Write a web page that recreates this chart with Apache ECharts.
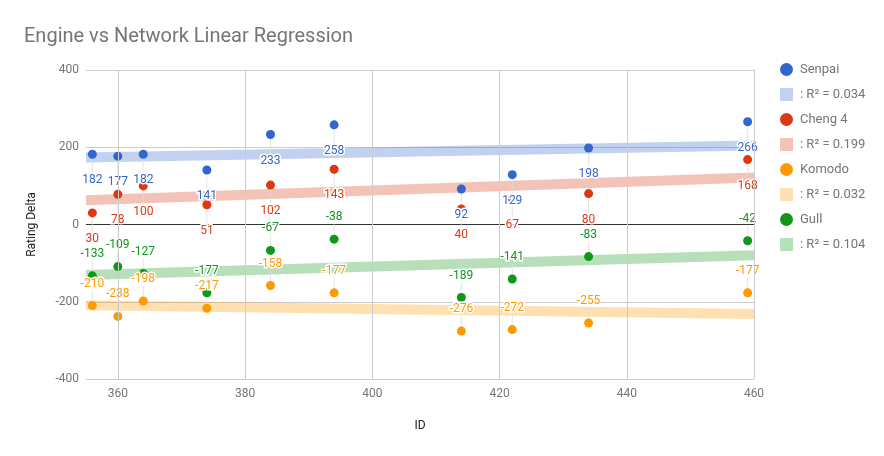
<!DOCTYPE html>
<html>
<head>
<meta charset="utf-8">
<script src="https://cdn.jsdelivr.net/npm/echarts@6/dist/echarts.min.js"></script>
<style>html,body{margin:0;padding:0;background:#fff;}#c{width:884px;height:456px;}</style>
</head>
<body>
<div id="c"></div>
<script>
var ids = [356, 360, 364, 374, 384, 394, 414, 422, 434, 459];
var senpai = [182, 177, 182, 141, 233, 258, 92, 129, 198, 266];
var cheng4 = [30, 78, 100, 51, 102, 143, 40, 67, 80, 168];
var komodo = [-210, -238, -198, -217, -158, -177, -276, -272, -255, -177];
var gull = [-133, -109, -127, -177, -67, -38, -189, -141, -83, -42];
var seriesNames = ['Senpai', 'Cheng 4', 'Komodo', 'Gull'];
var trendNames = [': R\u00b2 = 0.034', ': R\u00b2 = 0.199', ': R\u00b2 = 0.032', ': R\u00b2 = 0.104'];
var xTicks = [360, 380, 400, 420, 440, 460];
var yTicks = [-400, -200, 0, 200, 400];

var colors = ['#3366cc', '#dc3912', '#ff9900', '#109618'];
var lightColors = ['#c2d1f0', '#f5c4b8', '#ffe0b3', '#b7e0ba'];
var labelBelow = [true, true, false, false];
var X_MIN = 355, X_MAX = 460;

function regress(xs, ys) {
  var n = xs.length, mx = 0, my = 0;
  for (var i = 0; i < n; i++) { mx += xs[i]; my += ys[i]; }
  mx /= n; my /= n;
  var sxy = 0, sxx = 0;
  for (var j = 0; j < n; j++) { sxy += (xs[j] - mx) * (ys[j] - my); sxx += (xs[j] - mx) * (xs[j] - mx); }
  var b = sxy / sxx, a = my - b * mx;
  return [[X_MIN, a + b * X_MIN], [X_MAX, a + b * X_MAX]];
}

var allValues = [senpai, cheng4, komodo, gull];
var series = [];
var legendData = [];

// vertical gridlines
series.push({
  type: 'line', data: [], silent: true, z: 0,
  markLine: {
    silent: true, symbol: 'none', label: {show: false}, animation: false,
    lineStyle: {color: '#cccccc', width: 1, type: 'solid'},
    data: xTicks.map(function (v) { return {xAxis: v}; })
  }
});

// trendlines
for (var k = 0; k < 4; k++) {
  series.push({
    name: trendNames[k], type: 'line', data: regress(ids, allValues[k]),
    symbol: 'none', silent: true, z: 1, color: lightColors[k],
    lineStyle: {color: colors[k], opacity: 0.3, width: 10, cap: 'butt'},
    clip: true, animation: false
  });
}
// stems
for (var s = 0; s < 4; s++) {
  var below = labelBelow[s];
  series.push({
    type: 'scatter', silent: true, z: 2, animation: false,
    symbol: 'rect', symbolSize: below ? [1, 19] : [1, 15],
    symbolOffset: below ? [0, 9.5] : [0, -7.5],
    itemStyle: {color: '#dddddd'},
    data: ids.map(function (x, i) { return [x, allValues[s][i]]; })
  });
}
// points
for (var p = 0; p < 4; p++) {
  var bl = labelBelow[p];
  series.push({
    name: seriesNames[p], type: 'scatter', z: 3, animation: false,
    symbol: 'circle', symbolSize: 9, color: colors[p],
    itemStyle: {color: colors[p], opacity: 1},
    label: {
      show: true, position: 'inside', offset: [0, bl ? 26 : -22],
      formatter: function (d) { return String(d.value[1]); },
      color: colors[p], fontFamily: 'Roboto', fontSize: 12,
      textBorderColor: '#ffffff', textBorderWidth: 3
    },
    data: ids.map(function (x, i) { return [x, allValues[p][i]]; })
  });
}
for (var q = 0; q < 4; q++) {
  legendData.push({name: seriesNames[q], icon: 'circle', itemStyle: {color: colors[q]}});
  legendData.push({name: trendNames[q], icon: 'rect', itemStyle: {color: lightColors[q]}});
}

var chart = echarts.init(document.getElementById('c'), null, {renderer: 'canvas'});
chart.setOption({
  backgroundColor: '#ffffff',
  animation: false,
  title: {
    text: 'Engine vs Network Linear Regression', left: 19, top: 22,
    textStyle: {fontFamily: 'Roboto', fontSize: 20, fontWeight: 'normal', color: '#757575'}
  },
  legend: {
    orient: 'vertical', left: 775, top: 58, itemWidth: 13, itemHeight: 13, itemGap: 12,
    data: legendData, selectedMode: false,
    textStyle: {fontFamily: 'Roboto', fontSize: 13, color: '#757575', padding: [0, 0, 0, 2]}
  },
  grid: {left: 86, right: 130, top: 70, bottom: 77, containLabel: false},
  xAxis: {
    type: 'value', min: X_MIN, max: X_MAX, interval: 5,
    name: 'ID', nameLocation: 'middle', nameGap: 41,
    nameTextStyle: {fontFamily: 'Roboto', fontSize: 12, color: '#222222'},
    axisLine: {show: false}, axisTick: {show: false}, splitLine: {show: false},
    axisLabel: {
      margin: 9, fontFamily: 'Roboto', fontSize: 12, color: '#757575',
      formatter: function (v) { return xTicks.indexOf(v) >= 0 ? String(v) : ''; }
    }
  },
  yAxis: {
    type: 'value', min: -400, max: 400, interval: 200,
    name: 'Rating Delta', nameLocation: 'middle', nameGap: 48,
    nameTextStyle: {fontFamily: 'Roboto', fontSize: 12, color: '#222222'},
    axisLine: {show: false}, axisTick: {show: false},
    splitLine: {show: true, lineStyle: {color: ['#cccccc', '#cccccc', '#333333', '#cccccc', '#cccccc'], width: 1}},
    axisLabel: {margin: 7, fontFamily: 'Roboto', fontSize: 12, color: '#757575',
      formatter: function (v) { return yTicks.indexOf(v) >= 0 ? String(v) : ''; }}
  },
  series: series
});
</script>
</body>
</html>
